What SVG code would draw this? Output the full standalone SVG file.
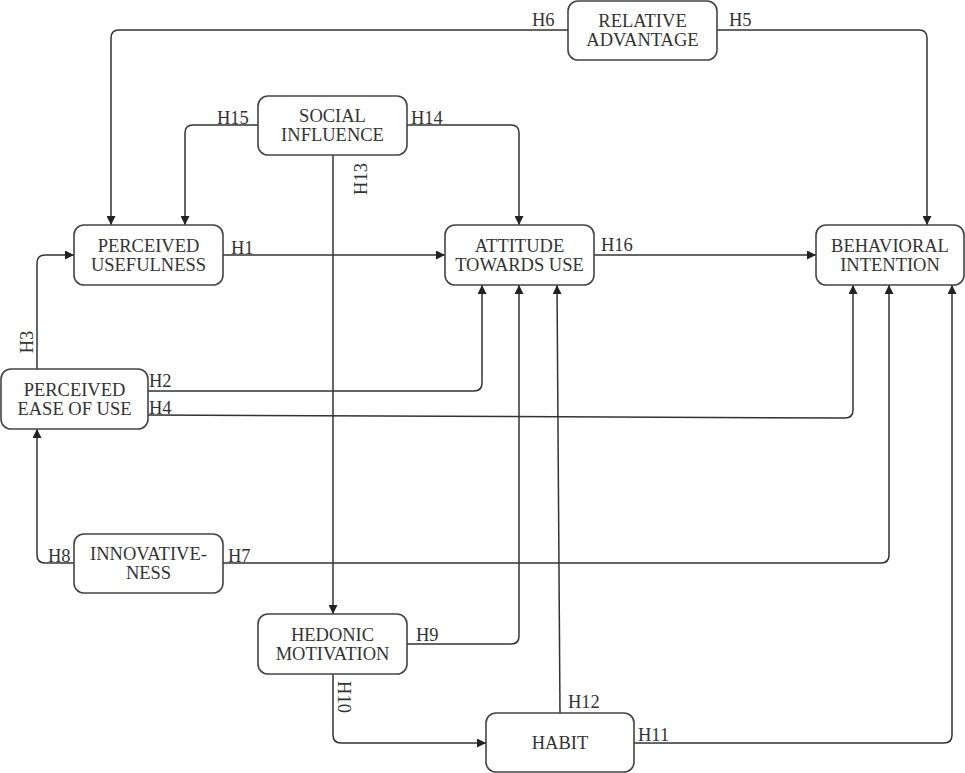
<svg xmlns="http://www.w3.org/2000/svg" width="965" height="773" viewBox="0 0 965 773">
<defs>
<marker id="arr" viewBox="0 0 10 10" refX="10" refY="5" markerWidth="9" markerHeight="9" markerUnits="userSpaceOnUse" orient="auto">
<path d="M0,0 L10,5 L0,10 z" fill="#222"/>
</marker>
</defs>
<style>
.node rect{fill:#fff;stroke:#444;stroke-width:1.6}
.node text{font-family:"Liberation Serif","Times New Roman",serif;font-size:18.5px;fill:#333;text-anchor:middle}
#connectors path{fill:none;stroke:#333;stroke-width:1.5;marker-end:url(#arr)}
.lbl{font-family:"Liberation Serif","Times New Roman",serif;font-size:18.5px;fill:#333}
</style>
<rect width="965" height="773" fill="#fff"/>
<g id="connectors">
<path d="M568,30 H119 Q111,30 111,38 V225"/>
<path d="M717,30 H919 Q927,30 927,38 V225"/>
<path d="M258,125 H193 Q185,125 185,133 V225"/>
<path d="M407,125 H511 Q519,125 519,133 V225"/>
<path d="M333,155 V614"/>
<path d="M223,255 H445"/>
<path d="M594,255 H816"/>
<path d="M37,369 V263 Q37,255 45,255 H74"/>
<path d="M148,391 H474 Q482,391 482,383 V285"/>
<path d="M148,415 L845,418 Q853,418 853,410 V285"/>
<path d="M223,563 H881 Q889,563 889,555 V285"/>
<path d="M74,563 H45 Q37,563 37,555 V429"/>
<path d="M407,644 H511 Q519,644 519,636 V285"/>
<path d="M560,713 L557,285"/>
<path d="M333,674 V735 Q333,743 341,743 H486"/>
<path d="M634,743 H944 Q952,743 952,735 V285"/>
<text class="lbl" x="532" y="26">H6</text>
<text class="lbl" x="729" y="26">H5</text>
<text class="lbl" x="217" y="124">H15</text>
<text class="lbl" x="411" y="124">H14</text>
<text class="lbl" transform="translate(367,179) rotate(-90)" text-anchor="middle">H13</text>
<text class="lbl" x="231" y="254">H1</text>
<text class="lbl" x="601" y="251">H16</text>
<text class="lbl" transform="translate(33,342) rotate(-90)" text-anchor="middle">H3</text>
<text class="lbl" x="149" y="387">H2</text>
<text class="lbl" x="149" y="414">H4</text>
<text class="lbl" x="48" y="562">H8</text>
<text class="lbl" x="228" y="562">H7</text>
<text class="lbl" x="416" y="641">H9</text>
<text class="lbl" transform="translate(338,697) rotate(90)" text-anchor="middle">H10</text>
<text class="lbl" x="568" y="708">H12</text>
<text class="lbl" x="638" y="741">H11</text>
</g>
<g id="relative-advantage" class="node">
<rect x="568" y="1" width="149" height="59" rx="10"/>
<text x="642.5" y="27">RELATIVE</text>
<text x="642.5" y="46">ADVANTAGE</text>
</g>
<g id="social-influence" class="node">
<rect x="258" y="96" width="149" height="59" rx="10"/>
<text x="332.5" y="122">SOCIAL</text>
<text x="332.5" y="141">INFLUENCE</text>
</g>
<g id="perceived-usefulness" class="node">
<rect x="74" y="225" width="149" height="60" rx="10"/>
<text x="148.5" y="252">PERCEIVED</text>
<text x="148.5" y="271">USEFULNESS</text>
</g>
<g id="attitude-towards-use" class="node">
<rect x="445" y="225" width="149" height="60" rx="10"/>
<text x="519.5" y="252">ATTITUDE</text>
<text x="519.5" y="271">TOWARDS USE</text>
</g>
<g id="behavioral-intention" class="node">
<rect x="816" y="225" width="148" height="60" rx="10"/>
<text x="890" y="252">BEHAVIORAL</text>
<text x="890" y="271">INTENTION</text>
</g>
<g id="perceived-ease-of-use" class="node">
<rect x="1" y="369" width="147" height="60" rx="10"/>
<text x="74.5" y="396">PERCEIVED</text>
<text x="74.5" y="415">EASE OF USE</text>
</g>
<g id="innovativeness" class="node">
<rect x="74" y="534" width="149" height="59" rx="10"/>
<text x="148.5" y="560">INNOVATIVE-</text>
<text x="148.5" y="579">NESS</text>
</g>
<g id="hedonic-motivation" class="node">
<rect x="258" y="614" width="149" height="60" rx="10"/>
<text x="332.5" y="641">HEDONIC</text>
<text x="332.5" y="660">MOTIVATION</text>
</g>
<g id="habit" class="node">
<rect x="486" y="713" width="148" height="59" rx="10"/>
<text x="560" y="749">HABIT</text>
</g>
</svg>
